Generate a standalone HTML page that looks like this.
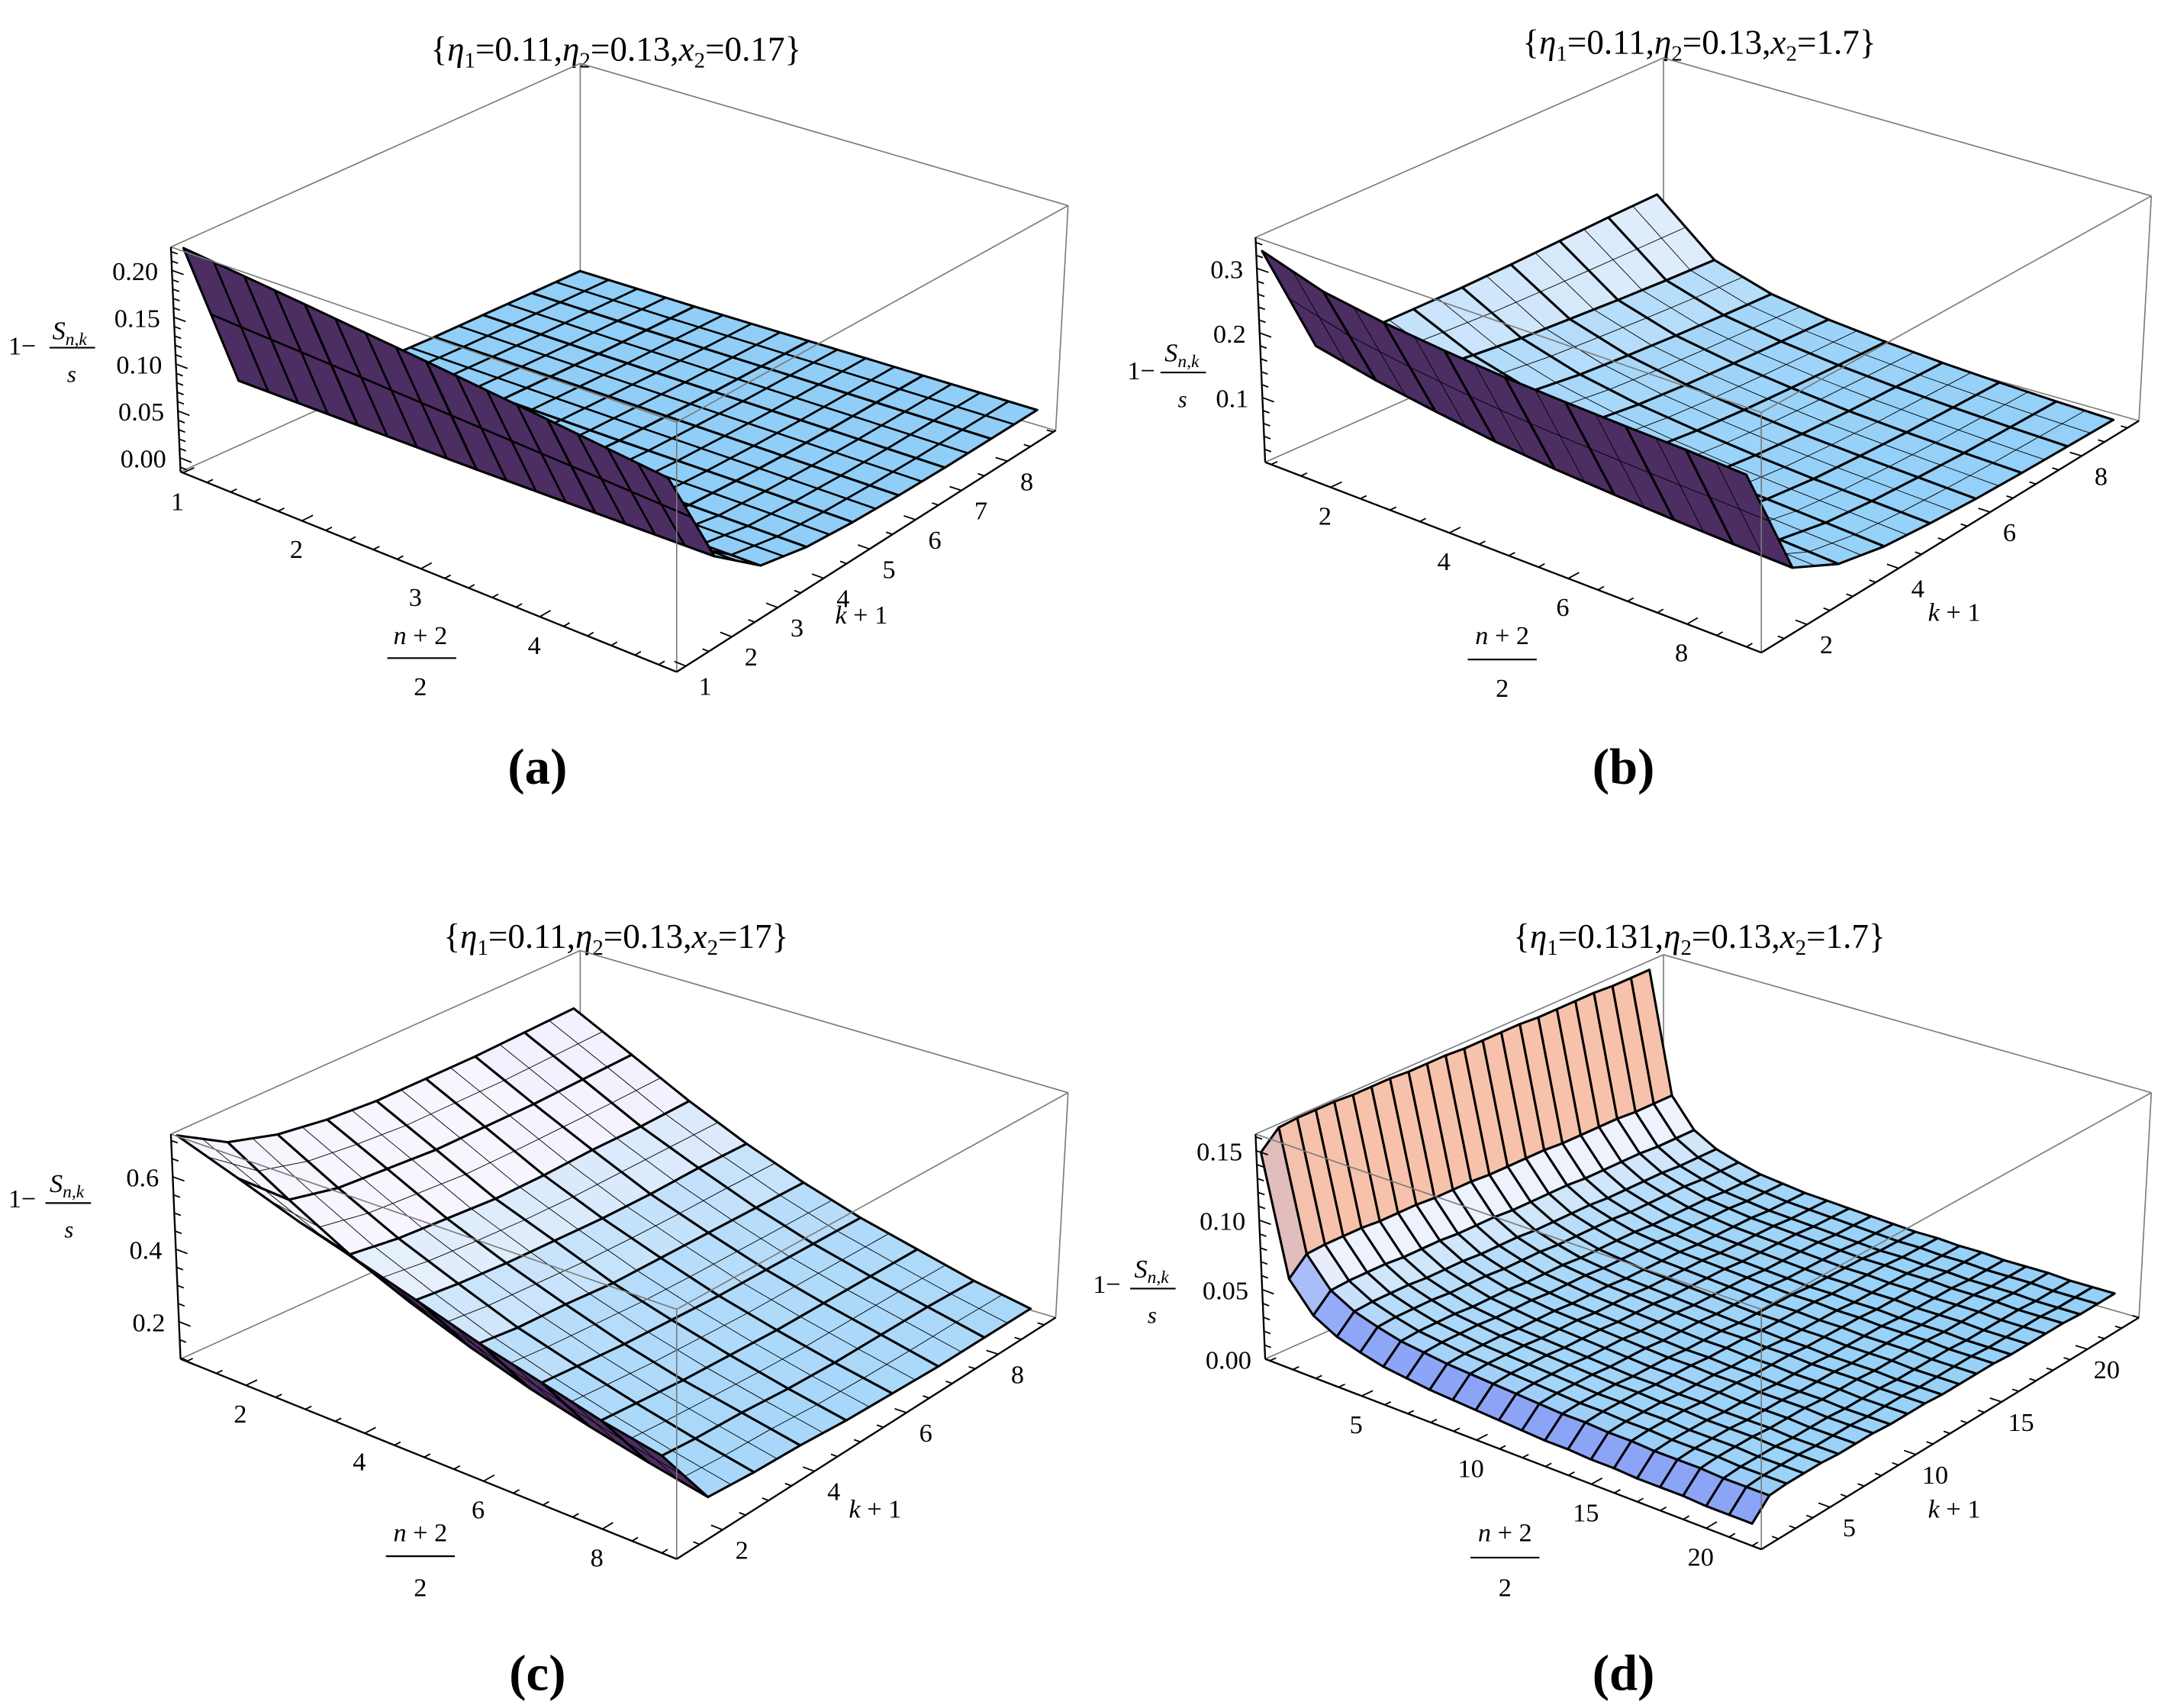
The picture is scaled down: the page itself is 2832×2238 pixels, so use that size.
<!DOCTYPE html>
<html><head><meta charset="utf-8">
<style>
html,body{margin:0;padding:0;background:#fff;}
svg{display:block;}
text{font-family:"Liberation Serif",serif;fill:#000;}
</style></head>
<body>
<svg id="chart" width="2832" height="2238" viewBox="0 0 1568 1238" preserveAspectRatio="none">
<rect x="0" y="0" width="1568" height="1238" fill="#fff"/>
<text x="447" y="44" font-size="25" text-anchor="middle">{<tspan font-style="italic">η</tspan><tspan font-size="16" dy="5">1</tspan><tspan dy="-5">=0.11,</tspan><tspan font-style="italic">η</tspan><tspan font-size="16" dy="5">2</tspan><tspan dy="-5">=0.13,</tspan><tspan font-style="italic">x</tspan><tspan font-size="16" dy="5">2</tspan><tspan dy="-5">=0.17}</tspan></text>
<text x="1233" y="39" font-size="25" text-anchor="middle">{<tspan font-style="italic">η</tspan><tspan font-size="16" dy="5">1</tspan><tspan dy="-5">=0.11,</tspan><tspan font-style="italic">η</tspan><tspan font-size="16" dy="5">2</tspan><tspan dy="-5">=0.13,</tspan><tspan font-style="italic">x</tspan><tspan font-size="16" dy="5">2</tspan><tspan dy="-5">=1.7}</tspan></text>
<text x="447" y="687" font-size="25" text-anchor="middle">{<tspan font-style="italic">η</tspan><tspan font-size="16" dy="5">1</tspan><tspan dy="-5">=0.11,</tspan><tspan font-style="italic">η</tspan><tspan font-size="16" dy="5">2</tspan><tspan dy="-5">=0.13,</tspan><tspan font-style="italic">x</tspan><tspan font-size="16" dy="5">2</tspan><tspan dy="-5">=17}</tspan></text>
<text x="1233" y="687" font-size="25" text-anchor="middle">{<tspan font-style="italic">η</tspan><tspan font-size="16" dy="5">1</tspan><tspan dy="-5">=0.131,</tspan><tspan font-style="italic">η</tspan><tspan font-size="16" dy="5">2</tspan><tspan dy="-5">=0.13,</tspan><tspan font-style="italic">x</tspan><tspan font-size="16" dy="5">2</tspan><tspan dy="-5">=1.7}</tspan></text>
<text x="390" y="568" font-size="37" font-weight="bold" text-anchor="middle">(a)</text>
<text x="1178" y="568" font-size="37" font-weight="bold" text-anchor="middle">(b)</text>
<text x="390" y="1225" font-size="37" font-weight="bold" text-anchor="middle">(c)</text>
<text x="1178" y="1225" font-size="37" font-weight="bold" text-anchor="middle">(d)</text>
<g>
<text x="6" y="257" font-size="19">1−</text><text x="38" y="246" font-size="19" font-style="italic">S<tspan font-size="13" dy="4">n,k</tspan></text>
<line x1="36" y1="252" x2="69" y2="252" stroke="#000" stroke-width="1.2"/><text x="52" y="277" font-size="17" font-style="italic" text-anchor="middle">s</text></g>
<g>
<text x="818" y="275" font-size="19">1−</text><text x="845" y="262" font-size="19" font-style="italic">S<tspan font-size="13" dy="4">n,k</tspan></text>
<line x1="842" y1="270" x2="875" y2="270" stroke="#000" stroke-width="1.2"/><text x="858" y="295" font-size="17" font-style="italic" text-anchor="middle">s</text></g>
<g>
<text x="6" y="875" font-size="19">1−</text><text x="36" y="864" font-size="19" font-style="italic">S<tspan font-size="13" dy="4">n,k</tspan></text>
<line x1="33" y1="872" x2="66" y2="872" stroke="#000" stroke-width="1.2"/><text x="50" y="897" font-size="17" font-style="italic" text-anchor="middle">s</text></g>
<g>
<text x="793" y="937" font-size="19">1−</text><text x="823" y="926" font-size="19" font-style="italic">S<tspan font-size="13" dy="4">n,k</tspan></text>
<line x1="820" y1="934" x2="853" y2="934" stroke="#000" stroke-width="1.2"/><text x="836" y="959" font-size="17" font-style="italic" text-anchor="middle">s</text></g>
<g><text x="305" y="467" font-size="19" text-anchor="middle"><tspan font-style="italic">n</tspan> + 2</text><line x1="281" y1="477" x2="331" y2="477" stroke="#000" stroke-width="1.2"/><text x="305" y="504" font-size="19" text-anchor="middle">2</text></g>
<g><text x="1090" y="467" font-size="19" text-anchor="middle"><tspan font-style="italic">n</tspan> + 2</text><line x1="1065" y1="478" x2="1115" y2="478" stroke="#000" stroke-width="1.2"/><text x="1090" y="505" font-size="19" text-anchor="middle">2</text></g>
<g><text x="305" y="1117" font-size="19" text-anchor="middle"><tspan font-style="italic">n</tspan> + 2</text><line x1="280" y1="1128" x2="330" y2="1128" stroke="#000" stroke-width="1.2"/><text x="305" y="1157" font-size="19" text-anchor="middle">2</text></g>
<g><text x="1092" y="1117" font-size="19" text-anchor="middle"><tspan font-style="italic">n</tspan> + 2</text><line x1="1067" y1="1129" x2="1117" y2="1129" stroke="#000" stroke-width="1.2"/><text x="1092" y="1157" font-size="19" text-anchor="middle">2</text></g>
<text x="625" y="452" font-size="19" text-anchor="middle"><tspan font-style="italic">k</tspan> + 1</text>
<text x="1418" y="450" font-size="19" text-anchor="middle"><tspan font-style="italic">k</tspan> + 1</text>
<text x="635" y="1100" font-size="19" text-anchor="middle"><tspan font-style="italic">k</tspan> + 1</text>
<text x="1418" y="1100" font-size="19" text-anchor="middle"><tspan font-style="italic">k</tspan> + 1</text>
</svg>
<script>
// ---------- data ----------
const aN=[1,2,3,4,5];
const aK=[1,2,3,4,5,6,7,8,9];
const aZ=[
[0.22,0.055,0.016,0.011,0.009,0.008,0.008,0.008,0.008],
[0.205,0.055,0.017,0.01,0.008,0.007,0.006,0.006,0.006],
[0.19,0.055,0.018,0.01,0.007,0.006,0.005,0.005,0.005],
[0.175,0.056,0.019,0.01,0.007,0.005,0.004,0.004,0.004],
[0.16,0.057,0.02,0.01,0.006,0.004,0.003,0.003,0.003]];
const aNTicks=[1,2,3,4];
const aKTicks=[1,2,3,4,5,6,7,8];
const aZTicks=["0.00","0.05","0.10","0.15","0.20"];

const bN=[1,2,3,4,5,6,7,8,9];
const bK=[1,2,3,4,5,6,7,8,9];
const bZ=[
[0.33,0.15,0.14,0.14,0.14,0.142,0.145,0.148,0.15],
[0.30,0.13,0.11,0.10,0.092,0.087,0.082,0.078,0.075],
[0.285,0.115,0.09,0.076,0.066,0.06,0.055,0.051,0.048],
[0.275,0.102,0.076,0.06,0.05,0.044,0.04,0.037,0.034],
[0.267,0.093,0.065,0.049,0.04,0.034,0.03,0.027,0.025],
[0.262,0.087,0.056,0.041,0.032,0.026,0.022,0.02,0.018],
[0.258,0.082,0.05,0.035,0.026,0.021,0.017,0.015,0.013],
[0.255,0.078,0.045,0.03,0.022,0.017,0.013,0.011,0.009],
[0.25,0.075,0.04,0.025,0.018,0.013,0.01,0.008,0.006]];
const bNTicks=[2,4,6,8];
const bKTicks=[2,4,6,8];
const bZTicks=["0.1","0.2","0.3"];

const cN=[1,2,3,4,5,6,7,8,9];
const cK=[1,2,3,4,5,6,7,8,9];
const cZ=[
[0.72,0.64,0.60,0.58,0.57,0.57,0.57,0.575,0.58],
[0.66,0.54,0.51,0.50,0.49,0.49,0.49,0.495,0.50],
[0.60,0.45,0.43,0.42,0.41,0.41,0.415,0.415,0.42],
[0.55,0.38,0.365,0.355,0.35,0.345,0.345,0.35,0.35],
[0.50,0.32,0.305,0.30,0.29,0.29,0.29,0.29,0.29],
[0.45,0.27,0.26,0.25,0.245,0.24,0.24,0.24,0.24],
[0.41,0.23,0.22,0.21,0.205,0.2,0.2,0.2,0.2],
[0.37,0.195,0.185,0.18,0.17,0.165,0.165,0.165,0.16],
[0.34,0.165,0.155,0.15,0.14,0.135,0.13,0.13,0.13]];
const cNTicks=[2,4,6,8];
const cKTicks=[2,4,6,8];
const cZTicks=["0.2","0.4","0.6"];

const dN=[1,2,3,4,5,6,7,8,9,10,11,12,13,14,15,16,17,18,19,20,21,22];
const dK=[1,2,3,4,5,6,7,8,9,10,11,12,13,14,15,16,17,18,19,20,21,22];
const dProfileN=[0.15,0.065,0.045,0.036,0.031,0.027,0.025,0.023,0.022,0.021,0.02,0.019,0.018,0.018,0.017,0.017,0.016,0.016,0.016,0.015,0.015,0.015];
const dProfileK=[0,0.012,0.013,0.013,0.013,0.012,0.012,0.012,0.011,0.011,0.011,0.01,0.01,0.01,0.01,0.009,0.009,0.009,0.009,0.008,0.008,0.008];
const dNTicks=[5,10,15,20];
const dKTicks=[5,10,15,20];
const dZTicks=["0.00","0.05","0.10","0.15"];

// ---------- geometry ----------
const svg=document.getElementById('chart');
const NS=svg.namespaceURI;
function el(tag,attrs,parent){const e=document.createElementNS(NS,tag);for(const a in attrs)e.setAttribute(a,attrs[a]);parent.appendChild(e);return e;}
function shiftBox(b,dy){const o={};for(const key in b)o[key]=[b[key][0],b[key][1]+dy];return o;}
const boxLeft={FLb:[131,985],FRb:[491,1130],BRb:[766,955],BLb:[421,854],FLt:[124,822],FRt:[491,949],BRt:[775,792],BLt:[421,689]};
const boxRight={FLb:[918,985],FRb:[1278,1123],BRb:[1552,955],BLb:[1207,857],FLt:[911,822],FRt:[1278,949],BRt:[1561,792],BLt:[1207,692]};

const panels=[
 {id:'a',box:shiftBox(boxLeft,-643),nmin:0.98,nmax:5.15,kmin:0.8,kmax:9.05,zmin:-0.015,zmax:0.225,N:aN,K:aK,z:(i,j)=>aZ[i][j],nT:aNTicks,kT:aKTicks,zT:aZTicks,nMinor:0.2,kMinor:0.5,zMinor:0.01,subN:4,subK:2},
 {id:'b',box:shiftBox(boxRight,-650),nmin:0.9,nmax:9.25,kmin:1,kmax:9.25,zmin:0,zmax:0.348,N:bN,K:bK,z:(i,j)=>bZ[i][j],nT:bNTicks,kT:bKTicks,zT:bZTicks,nMinor:0.5,kMinor:0.5,zMinor:0.02,subN:2,subK:2},
 {id:'c',box:boxLeft,nmin:0.9,nmax:9.25,kmin:1,kmax:9.25,zmin:0.097,zmax:0.718,N:cN,K:cK,z:(i,j)=>cZ[i][j],nT:cNTicks,kT:cKTicks,zT:cZTicks,nMinor:0.5,kMinor:0.5,zMinor:0.05,subN:2,subK:2},
 {id:'d',box:boxRight,nmin:0.8,nmax:22.4,kmin:1,kmax:23,zmin:0,zmax:0.162,N:dN,K:dK,z:(i,j)=>dProfileN[i]+dProfileK[j],nT:dNTicks,kT:dKTicks,zT:dZTicks,nMinor:1,kMinor:1,zMinor:0.01,subN:1,subK:1}
];

function bil(A,B,C,D,u,v){return[A[0]*(1-u)*(1-v)+B[0]*u*(1-v)+C[0]*u*v+D[0]*(1-u)*v, A[1]*(1-u)*(1-v)+B[1]*u*(1-v)+C[1]*u*v+D[1]*(1-u)*v];}
function mix(c1,c2,t){t=Math.max(0,Math.min(1,t));return[c1[0]+(c2[0]-c1[0])*t,c1[1]+(c2[1]-c1[1])*t,c1[2]+(c2[2]-c1[2])*t];}
function rgb(c){return 'rgb('+Math.round(c[0])+','+Math.round(c[1])+','+Math.round(c[2])+')';}
const BLUE=[143,206,248],WHITE=[247,245,253],SALMON=[246,194,172],PERI=[140,162,246],PURPLE=[76,46,99];

function drawPanel(P){
 const g=el('g',{},svg);
 
 
 const B=P.box, nr=P.nmax-P.nmin, kr=P.kmax-P.kmin, zr=P.zmax-P.zmin;
 function proj(n,k,z){const u=(n-P.nmin)/nr,v=(k-P.kmin)/kr,w=(z-P.zmin)/zr;
  const b=bil(B.FLb,B.FRb,B.BRb,B.BLb,u,v),t=bil(B.FLt,B.FRt,B.BRt,B.BLt,u,v);
  return[b[0]+(t[0]-b[0])*w,b[1]+(t[1]-b[1])*w];}
 function line(p,q,attrs,name){const l=el('line',Object.assign({x1:p[0].toFixed(2),y1:p[1].toFixed(2),x2:q[0].toFixed(2),y2:q[1].toFixed(2)},attrs),g);
  
  
  return l;}
 const boxSt={stroke:'#7a7a7a','stroke-width':0.9};
 line(B.BLb,B.BLt,boxSt,'box-edge');
 line(B.FLb,B.BLb,boxSt,'box-edge');
 line(B.BLb,B.BRb,boxSt,'box-edge');
 const quads=[];
 const fl=proj(P.nmin,P.kmin,P.zmin),fr=proj(P.nmax,P.kmin,P.zmin),br=proj(P.nmax,P.kmax,P.zmin),bl=proj(P.nmin,P.kmax,P.zmin);
 function area(a,b,c,d){const pts=[a,b,c,d];let s=0;for(let i=0;i<4;i++){const p=pts[i],q=pts[(i+1)%4];s+=p[0]*q[1]-q[0]*p[1];}return s;}
 const refSign=Math.sign(area(fl,fr,br,bl));
 const H=0.55;
 for(let i=0;i<P.N.length-1;i++)for(let j=0;j<P.K.length-1;j++){
  const n0=P.N[i],n1=P.N[i+1],k0=P.K[j],k1=P.K[j+1];
  const z00=P.z(i,j),z10=P.z(i+1,j),z11=P.z(i+1,j+1),z01=P.z(i,j+1);
  const p00=proj(n0,k0,z00),p10=proj(n1,k0,z10),p11=proj(n1,k1,z11),p01=proj(n0,k1,z01);
  const a=(n1-n0)/nr,b=(k1-k0)/kr;
  const c=((z10-z00)+(z11-z01))/2/zr*H, d=((z01-z00)+(z11-z10))/2/zr*H;
  let nx=-c*b,ny=-a*d,nz=a*b;const L=Math.hypot(nx,ny,nz);nx/=L;ny/=L;nz/=L;
  const s=Math.max(nx,0);
  const wAvg=((z00+z10+z11+z01)/4-P.zmin)/zr;
  const whiteT=Math.max((wAvg-0.12)/0.45, s/0.9);
  let col=mix(BLUE,WHITE,whiteT);
  if(s>0.9)col=mix(WHITE,SALMON,(s-0.9)/0.08);
  if(ny<0)col=mix(col,PERI,-ny/0.7);
  if(Math.sign(area(p00,p10,p11,p01))!==refSign)col=PURPLE;
  const depth=((n0+n1)/2-P.nmin)/nr+(P.kmax-(k0+k1)/2)/kr;
  quads.push({pts:[p00,p10,p11,p01],col,depth});
 }
 quads.sort((x,y)=>x.depth-y.depth);
 for(const q of quads){
  const poly=el('polygon',{points:q.pts.map(p=>p[0].toFixed(2)+','+p[1].toFixed(2)).join(' '),fill:rgb(q.col),stroke:'#000','stroke-width':1.7,'stroke-linejoin':'round'},g);
  
  
  const [A,Bq,C,D]=q.pts;
  const lerp=(p,r,t)=>[p[0]+(r[0]-p[0])*t,p[1]+(r[1]-p[1])*t];
  for(let s=1;s<P.subN;s++){const t=s/P.subN;
   line(lerp(A,Bq,t),lerp(D,C,t),{stroke:'#000','stroke-width':P.id==='a'?1.5:0.5},'mesh-line');}
  for(let s=1;s<P.subK;s++){const t=s/P.subK;
   line(lerp(A,D,t),lerp(Bq,C,t),{stroke:'#000','stroke-width':P.id==='a'?1.4:0.5},'mesh-line');}
 }
 line(B.FLt,B.FRt,boxSt,'box-edge');
 line(B.FRt,B.BRt,boxSt,'box-edge');
 line(B.BLt,B.BRt,boxSt,'box-edge');
 line(B.FLt,B.BLt,boxSt,'box-edge');
 line(B.FRb,B.FRt,boxSt,'box-edge');
 line(B.BRb,B.BRt,boxSt,'box-edge');
 const axSt={stroke:'#000','stroke-width':1.3};
 line(B.FLb,B.FLt,axSt,'z-axis-line');
 line(B.FLb,B.FRb,axSt,'n-axis-line');
 line(B.FRb,B.BRb,axSt,'k-axis-line');
 function unit(p,q,len){const dx=q[0]-p[0],dy=q[1]-p[1],l=Math.hypot(dx,dy);return[p[0]+dx/l*len,p[1]+dy/l*len];}
 for(let v=Math.ceil(P.nmin/P.nMinor)*P.nMinor;v<=P.nmax+1e-9;v+=P.nMinor){
  const p=proj(v,P.kmin,P.zmin);const major=P.nT.some(t=>Math.abs(t-v)<1e-6);
  line(p,unit(p,proj(v,P.kmin+0.1*kr,P.zmin),major?9:5),{stroke:'#000','stroke-width':1},'n-tick');}
 for(const t of P.nT){const p=proj(t,P.kmin,P.zmin);
  const tx=el('text',{x:(p[0]-4).toFixed(1),y:(p[1]+27).toFixed(1),'font-size':19,'text-anchor':'middle'},g);tx.textContent=t;
  
  }
 for(let v=Math.ceil(P.kmin/P.kMinor)*P.kMinor;v<=P.kmax+1e-9;v+=P.kMinor){
  const p=proj(P.nmax,v,P.zmin);const major=P.kT.some(t=>Math.abs(t-v)<1e-6);
  line(p,unit(p,proj(P.nmax-0.1*nr,v,P.zmin),major?9:5),{stroke:'#000','stroke-width':1},'k-tick');}
 for(const t of P.kT){const p=proj(P.nmax,t,P.zmin);
  const tx=el('text',{x:(p[0]+14).toFixed(1),y:(p[1]+21).toFixed(1),'font-size':19,'text-anchor':'middle'},g);tx.textContent=t;
  
  }
 for(let v=Math.ceil(P.zmin/P.zMinor-1e-9)*P.zMinor;v<=P.zmax+1e-9;v+=P.zMinor){
  const p=proj(P.nmin,P.kmin,v);const major=P.zT.some(t=>Math.abs(parseFloat(t)-v)<1e-6);
  line(p,unit(p,proj(P.nmin+0.1*nr,P.kmin,v),major?9:5),{stroke:'#000','stroke-width':1},'z-tick');}
 for(const t of P.zT){const p=proj(P.nmin,P.kmin,parseFloat(t));
  const tx=el('text',{x:(p[0]-10).toFixed(1),y:(p[1]+7).toFixed(1),'font-size':19,'text-anchor':'end'},g);tx.textContent=t;
  
  }
}
panels.forEach(drawPanel);
</script>
</body></html>
